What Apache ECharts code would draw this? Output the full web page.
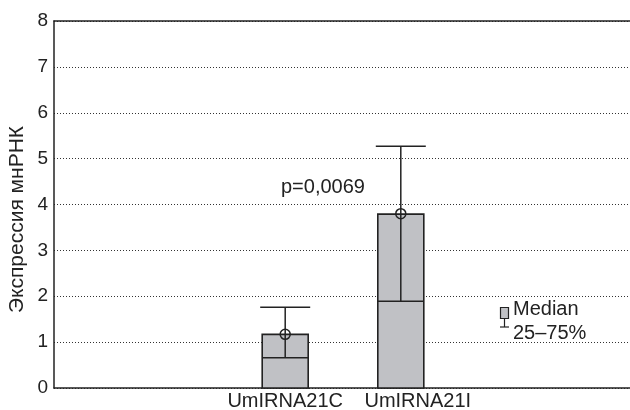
<!DOCTYPE html>
<html>
<head>
<meta charset="utf-8">
<script src="https://cdn.jsdelivr.net/npm/echarts@6/dist/echarts.min.js"></script>
<style>
  html, body { margin: 0; padding: 0; background: #fff; }
  #chart { width: 630px; height: 410px; }
</style>
</head>
<body>
<div id="chart"></div>
<script>
// data
const categories = ['UmIRNA21C', 'UmIRNA21I'];
const q1 = [0, 0];
const median = [0.66, 1.89];
const q3 = [1.17, 3.79];
const whiskerHigh = [1.76, 5.27];
const mean = [1.17, 3.80];
const yMin = 0, yMax = 8, yStep = 1;
const pText = 'p=0,0069';
const legendTexts = ['Median', '25\u201375%'];

// empty slots on both sides of the two groups
const slots = ['s0', 's1'].concat(categories, ['s4', 's5']);

const font = '"Liberation Sans", Arial, sans-serif';
const ink = '#222';
const boxFill = '#c0c1c5';

var myChart = echarts.init(document.getElementById('chart'));

function renderBox(params, api) {
    var cat = api.value(0);
    var x = api.coord([cat, 0])[0];
    var yLow = api.coord([cat, api.value(1)])[1];
    var yMed = api.coord([cat, api.value(2)])[1];
    var yHigh = api.coord([cat, api.value(3)])[1];
    var yWhisk = api.coord([cat, api.value(4)])[1];
    var yMean = api.coord([cat, api.value(5)])[1];
    var half = 23, capHalf = 25;
    var lineStyle = { stroke: ink, lineWidth: 1.5, fill: null };
    return {
        type: 'group',
        children: [
            { type: 'rect', shape: { x: x - half, y: yHigh, width: half * 2, height: yLow - yHigh },
              style: { fill: boxFill, stroke: ink, lineWidth: 1.6 } },
            { type: 'line', shape: { x1: x - half, y1: yMed, x2: x + half, y2: yMed }, style: lineStyle },
            { type: 'line', shape: { x1: x, y1: yMed, x2: x, y2: yWhisk }, style: lineStyle },
            { type: 'line', shape: { x1: x - capHalf, y1: yWhisk, x2: x + capHalf, y2: yWhisk }, style: lineStyle },
            { type: 'circle', shape: { cx: x, cy: yMean, r: 5 }, style: { fill: 'none', stroke: ink, lineWidth: 1.5 } }
        ]
    };
}

var option = {
    animation: false,
    textStyle: { fontFamily: font },
    grid: { left: 54, right: -2, top: 21, bottom: 22, containLabel: false, outerBoundsMode: 'none' },
    xAxis: [
        {
            type: 'category',
            data: slots,
            boundaryGap: false,
            axisLine: { lineStyle: { color: ink, width: 1.5 } },
            axisTick: { show: false },
            splitLine: { show: false },
            axisLabel: {
                interval: 0,
                margin: 3,
                fontSize: 20,
                color: ink,
                fontFamily: font,
                formatter: function (v) {
                    if (categories.indexOf(v) < 0) return '';
                    return v === categories[1] ? '{r|' + v + '}' : v;
                },
                rich: { r: { fontSize: 20, color: ink, fontFamily: font, padding: [0, 0, 0, 34] } }
            }
        },
        {
            type: 'category',
            data: slots,
            position: 'top',
            boundaryGap: false,
            axisLine: { lineStyle: { color: ink, width: 1.5 } },
            axisTick: { show: false },
            axisLabel: { show: false }
        }
    ],
    yAxis: {
        type: 'value',
        min: yMin,
        max: yMax,
        interval: yStep,
        name: 'Экспрессия мнРНК',
        nameLocation: 'middle',
        nameRotate: 90,
        nameGap: 26,
        nameMoveOverlap: false,
        nameTextStyle: { fontSize: 21, color: ink, fontFamily: font, padding: [0, 30, 0, 0] },
        axisLine: { show: true, lineStyle: { color: ink, width: 1.5 } },
        axisTick: { show: false },
        axisLabel: { fontSize: 19, color: ink, margin: 6, fontFamily: font },
        splitLine: { show: true, lineStyle: { color: '#333', width: 1, type: [1, 2] } }
    },
    series: [{
        type: 'custom',
        xAxisIndex: 0,
        renderItem: renderBox,
        encode: { x: 0, y: [1, 2, 3, 4, 5] },
        data: categories.map(function (c, i) {
            return [c, q1[i], median[i], q3[i], whiskerHigh[i], mean[i]];
        }),
        z: 3
    }],
    graphic: [
        { type: 'text', left: 281, top: 177,
          style: { text: pText, fontSize: 20, fill: ink, fontFamily: font } },
        { type: 'rect', shape: { x: 500.5, y: 307.5, width: 8, height: 11 },
          style: { fill: boxFill, stroke: ink, lineWidth: 1.2 } },
        { type: 'line', shape: { x1: 504.5, y1: 318, x2: 504.5, y2: 327 },
          style: { stroke: ink, lineWidth: 1.2 } },
        { type: 'line', shape: { x1: 500, y1: 327, x2: 509, y2: 327 },
          style: { stroke: ink, lineWidth: 1.2 } },
        { type: 'text', left: 513, top: 299,
          style: { text: legendTexts[0], fontSize: 20, fill: ink, fontFamily: font } },
        { type: 'text', left: 513, top: 323,
          style: { text: legendTexts[1], fontSize: 20, fill: ink, fontFamily: font } }
    ]
};

option && myChart.setOption(option);
</script>
</body>
</html>
